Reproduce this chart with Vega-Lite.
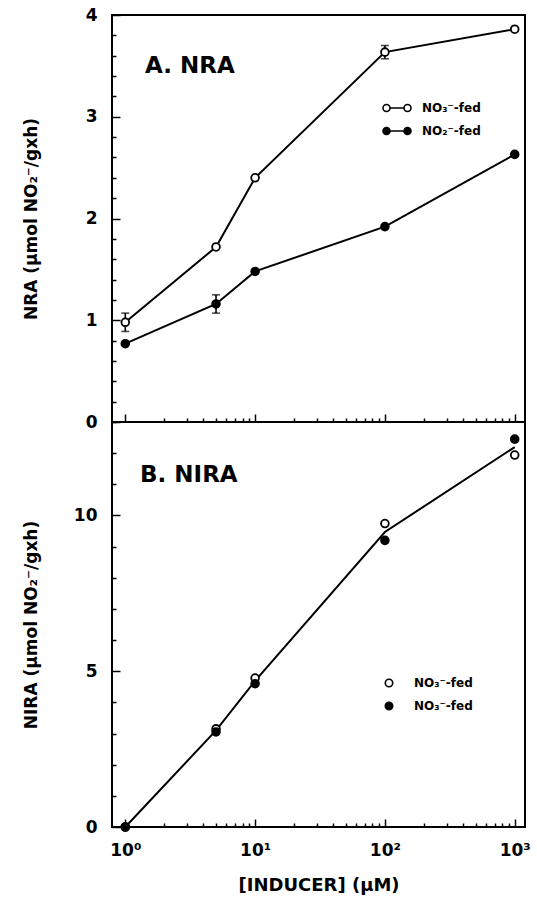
{
  "$schema": "https://vega.github.io/schema/vega-lite/v6.json",
  "padding": {"left": 21, "top": 5, "right": 14, "bottom": 5},
  "background": "white",
  "spacing": 0,
  "bounds": "flush",
  "config": {
    "view": {"stroke": "black", "strokeWidth": 2},
    "font": "DejaVu Sans",
    "axis": {
      "grid": false, "domain": false, "tickColor": "black", "tickWidth": 1.5,
      "labelFont": "DejaVu Sans", "labelFontWeight": "bold", "labelFontSize": 17, "labelColor": "black",
      "titleFont": "DejaVu Sans", "titleFontWeight": "bold", "titleColor": "black", "titleFontSize": 17
    },
    "legend": {
      "labelFont": "DejaVu Sans", "labelFontWeight": "bold", "labelFontSize": 12, "labelColor": "black",
      "symbolStrokeColor": "black", "symbolStrokeWidth": 1.6
    }
  },
  "datasets": {
    "nra": [
      {"conc": 1, "series": "open", "val": 0.98, "err": 0.09},
      {"conc": 5, "series": "open", "val": 1.72},
      {"conc": 10, "series": "open", "val": 2.40},
      {"conc": 100, "series": "open", "val": 3.635, "err": 0.065},
      {"conc": 1000, "series": "open", "val": 3.86},
      {"conc": 1, "series": "filled", "val": 0.77},
      {"conc": 5, "series": "filled", "val": 1.16, "err": 0.09},
      {"conc": 10, "series": "filled", "val": 1.48},
      {"conc": 100, "series": "filled", "val": 1.92},
      {"conc": 1000, "series": "filled", "val": 2.63}
    ],
    "nira": [
      {"conc": 1, "series": "open", "val": 0.0},
      {"conc": 5, "series": "open", "val": 3.15},
      {"conc": 10, "series": "open", "val": 4.78},
      {"conc": 100, "series": "open", "val": 9.74},
      {"conc": 1000, "series": "open", "val": 11.94},
      {"conc": 1, "series": "filled", "val": 0.0},
      {"conc": 5, "series": "filled", "val": 3.05},
      {"conc": 10, "series": "filled", "val": 4.6},
      {"conc": 100, "series": "filled", "val": 9.2},
      {"conc": 1000, "series": "filled", "val": 12.45}
    ]
  },
  "resolve": {
    "scale": {"x": "independent", "y": "independent", "fill": "independent"},
    "legend": {"fill": "independent"}
  },
  "vconcat": [
    {
      "width": 413,
      "height": 407,
      "data": {"name": "nra"},
      "resolve": {"axis": {"x": "independent", "y": "independent"}},
      "layer": [
        {
          "mark": {"type": "line", "color": "black", "strokeWidth": 2},
          "encoding": {
            "x": {"field": "conc", "type": "quantitative",
              "scale": {"type": "log", "domain": [0.79, 1200], "nice": false},
              "axis": {"orient": "bottom", "values": [1, 10, 100, 1000], "tickSize": -8, "labels": false, "title": null, "minExtent": 0, "maxExtent": 0}},
            "y": {"field": "val", "type": "quantitative",
              "scale": {"domain": [0, 4], "nice": false, "zero": false},
              "axis": {"orient": "left", "values": [0, 1, 2, 3, 4], "tickSize": -8, "labelPadding": 23,
                "title": "NRA (μmol NO₂⁻/gxh)", "titlePadding": 27, "minExtent": 45, "maxExtent": 45}},
            "detail": {"field": "series"}
          }
        },
        {
          "mark": {"type": "point", "opacity": 0},
          "encoding": {
            "x": {"field": "conc", "type": "quantitative",
              "axis": {"orient": "bottom", "values": [2,3,4,5,6,7,8,9,20,30,40,50,60,70,80,90,200,300,400,500,600,700,800,900], "tickSize": -4, "labels": false, "title": null, "minExtent": 0, "maxExtent": 0}},
            "y": {"field": "val", "type": "quantitative",
              "axis": {"orient": "left", "values": [0.2,0.4,0.6,0.8,1.2,1.4,1.6,1.8,2.2,2.4,2.6,2.8,3.2,3.4,3.6,3.8], "tickSize": -4, "labels": false, "title": null, "minExtent": 45, "maxExtent": 45}}
          }
        },
        {
          "transform": [{"filter": "isValid(datum.err)"}],
          "mark": {"type": "errorbar", "color": "black", "thickness": 1.6, "ticks": {"size": 8, "color": "black", "thickness": 1.6}},
          "encoding": {
            "x": {"field": "conc", "type": "quantitative", "axis": null},
            "y": {"field": "val", "type": "quantitative", "axis": null},
            "yError": {"field": "err"}
          }
        },
        {
          "mark": {"type": "point", "filled": true, "stroke": "black", "strokeWidth": 1.8, "size": 60, "opacity": 1},
          "encoding": {
            "x": {"field": "conc", "type": "quantitative", "axis": null},
            "y": {"field": "val", "type": "quantitative", "axis": null},
            "fill": {"field": "series", "type": "nominal",
              "scale": {"domain": ["open", "filled"], "range": ["white", "black"]},
              "legend": {"orient": "none", "legendX": 279, "legendY": 87, "title": null,
                "symbolType": "M-4,0A1,1,0,1,0,-2,0A1,1,0,1,0,-4,0ZM-2,0L2,0M2,0A1,1,0,1,0,4,0A1,1,0,1,0,2,0Z",
                "symbolSize": 49, "labelOffset": 19, "rowPadding": 9,
                "labelExpr": "datum.value == 'open' ? 'NO₃⁻-fed' : 'NO₂⁻-fed'"}}
          }
        },
        {
          "data": {"values": [{"label": "A. NRA"}]},
          "mark": {"type": "text", "align": "left", "baseline": "middle", "fontSize": 23, "fontWeight": "bold", "font": "DejaVu Sans", "color": "black"},
          "encoding": {
            "x": {"datum": 1.42, "type": "quantitative", "axis": null},
            "y": {"datum": 3.5, "type": "quantitative", "axis": null},
            "text": {"field": "label"}
          }
        }
      ]
    },
    {
      "width": 413,
      "height": 405,
      "data": {"name": "nira"},
      "resolve": {"axis": {"x": "independent", "y": "independent"}},
      "layer": [
        {
          "mark": {"type": "line", "color": "black", "strokeWidth": 2},
          "encoding": {
            "x": {"field": "conc", "type": "quantitative",
              "scale": {"type": "log", "domain": [0.79, 1200], "nice": false},
              "axis": {"orient": "bottom", "values": [1, 10, 100, 1000], "tickSize": -8, "labelPadding": 23,
                "labelExpr": "datum.value == 1 ? '10⁰' : datum.value == 10 ? '10¹' : datum.value == 100 ? '10²' : '10³'",
                "title": "[INDUCER] (μM)", "titleFontSize": 18, "titlePadding": 18}},
            "y": {"aggregate": "mean", "field": "val", "type": "quantitative",
              "scale": {"domain": [0, 13], "nice": false, "zero": false},
              "axis": {"orient": "left", "values": [0, 5, 10], "tickSize": -8, "labelPadding": 23,
                "title": "NIRA (μmol NO₂⁻/gxh)", "titlePadding": 27, "minExtent": 45, "maxExtent": 45}}
          }
        },
        {
          "mark": {"type": "point", "opacity": 0},
          "encoding": {
            "x": {"field": "conc", "type": "quantitative",
              "axis": {"orient": "bottom", "values": [2,3,4,5,6,7,8,9,20,30,40,50,60,70,80,90,200,300,400,500,600,700,800,900], "tickSize": -4, "labels": false, "title": null, "minExtent": 0, "maxExtent": 0}},
            "y": {"field": "val", "type": "quantitative",
              "axis": {"orient": "left", "values": [1,2,3,4,6,7,8,9,11,12,13], "tickSize": -4, "labels": false, "title": null, "minExtent": 45, "maxExtent": 45}}
          }
        },
        {
          "mark": {"type": "point", "filled": true, "stroke": "black", "strokeWidth": 1.8, "size": 60, "opacity": 1},
          "encoding": {
            "x": {"field": "conc", "type": "quantitative", "axis": null},
            "y": {"field": "val", "type": "quantitative", "axis": null},
            "fill": {"field": "series", "type": "nominal",
              "scale": {"domain": ["open", "filled"], "range": ["white", "black"]},
              "legend": {"orient": "none", "legendX": 271, "legendY": 255, "title": null,
                "symbolType": "circle", "symbolSize": 55, "labelOffset": 19, "rowPadding": 9,
                "labelExpr": "'NO₃⁻-fed'"}}
          }
        },
        {
          "data": {"values": [{"label": "B. NIRA"}]},
          "mark": {"type": "text", "align": "left", "baseline": "middle", "fontSize": 23, "fontWeight": "bold", "font": "DejaVu Sans", "color": "black"},
          "encoding": {
            "x": {"datum": 1.3, "type": "quantitative", "axis": null},
            "y": {"datum": 11.3, "type": "quantitative", "axis": null},
            "text": {"field": "label"}
          }
        }
      ]
    }
  ]
}
